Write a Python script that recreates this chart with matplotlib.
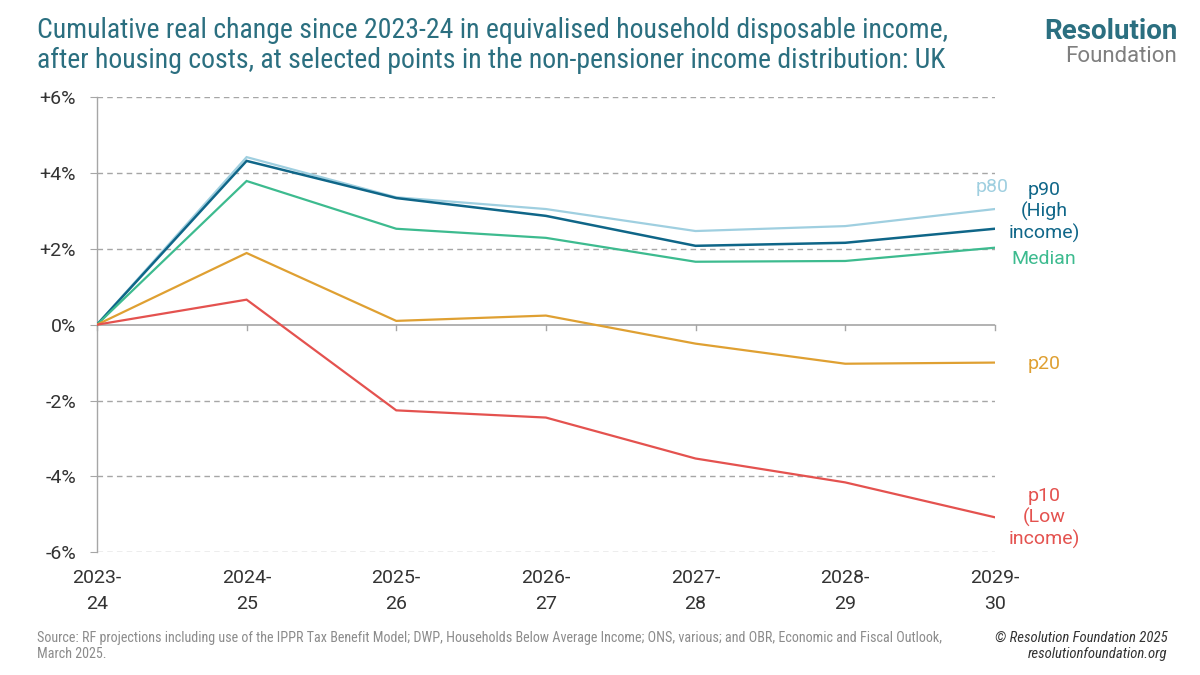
import matplotlib
matplotlib.use("Agg")
import matplotlib.pyplot as plt

years = ["2023-\n24", "2024-\n25", "2025-\n26", "2026-\n27", "2027-\n28", "2028-\n29", "2029-\n30"]
p90 = [0, 4.32, 3.34, 2.87, 2.08, 2.16, 2.53]
p80 = [0, 4.42, 3.36, 3.05, 2.47, 2.60, 3.05]
median = [0, 3.79, 2.53, 2.29, 1.66, 1.68, 2.03]
p20 = [0, 1.89, 0.10, 0.24, -0.50, -1.03, -1.00]
p10 = [0, 0.66, -2.26, -2.45, -3.53, -4.16, -5.08]
yticks = [-6, -4, -2, 0, 2, 4, 6]
ytick_labels = ["-6%", "-4%", "-2%", "0%", "+2%", "+4%", "+6%"]

TEAL = "#2b6f80"
GRID = "#a6a6a6"
COND = ["Roboto Condensed", "Liberation Sans Narrow", "Roboto", "DejaVu Sans"]
plt.rcParams["font.family"] = ["Roboto", "DejaVu Sans"]

fig = plt.figure(figsize=(12, 6.75), dpi=100)
ax = fig.add_axes([0.0808, 0.182, 0.829 - 0.0808, 0.856 - 0.182])

x = list(range(len(years)))
series = [
    (p80, "#9fcfe0", 1.6),
    (p90, "#0f6688", 1.8),
    (median, "#3dbb8f", 1.6),
    (p20, "#dfa032", 1.6),
    (p10, "#e4524f", 1.6),
]
for vals, col, lw in series:
    ax.plot(x, vals, color=col, lw=lw, zorder=3, solid_joinstyle="miter")

ax.set_xlim(0, 6)
ax.set_ylim(-6, 6)
for y in yticks:
    if y == 0:
        ax.axhline(0, color=GRID, lw=1.2, zorder=1)
    else:
        ax.axhline(y, color=GRID, lw=1, ls=(0, (4, 3)), zorder=1)
for xi in x:
    ax.plot([xi, xi], [0, -0.15], color=GRID, lw=1, zorder=1, clip_on=False)

for s in ["top", "right", "bottom"]:
    ax.spines[s].set_visible(False)
ax.spines["left"].set_color(GRID)
ax.spines["left"].set_linewidth(1)

ax.set_yticks(yticks)
ax.set_yticklabels(ytick_labels, fontsize=14, color="#333333")
ax.tick_params(axis="y", length=5, color=GRID, pad=10)
ax.set_xticks(x)
ax.set_xticklabels(years, fontsize=14, color="#333333", linespacing=1.6)
ax.tick_params(axis="x", length=0, pad=12)

# series labels
ax.text(6.09, 3.62, "p80", color="#9fcfe0", fontsize=14, ha="right", va="center")
ax.text(6.33, 2.97, "p90\n(High\nincome)", color="#0f6688", fontsize=14,
        ha="center", va="center", linespacing=1.2)
ax.text(6.33, 1.74, "Median", color="#3dbb8f", fontsize=14, ha="center", va="center")
ax.text(6.33, -1.05, "p20", color="#dfa032", fontsize=14, ha="center", va="center")
ax.text(6.33, -5.1, "p10\n(Low\nincome)", color="#e4524f", fontsize=14,
        ha="center", va="center", linespacing=1.2)

fig.text(0.031, 0.933, "Cumulative real change since 2023-24 in equivalised household disposable income,\n"
         "after housing costs, at selected points in the non-pensioner income distribution: UK",
         fontsize=20, color=TEAL, family=COND, ha="left", va="center", linespacing=1.15)

fig.text(0.981, 0.953, "Resolution", fontsize=20, fontweight="bold", color=TEAL,
         ha="right", va="center")
fig.text(0.981, 0.916, "Foundation", fontsize=16, color="#7f7f7f", ha="right", va="center")

fig.text(0.031, 0.043, "Source: RF projections including use of the IPPR Tax Benefit Model; DWP, Households Below Average Income; ONS, various; and OBR, Economic and Fiscal Outlook,\nMarch 2025.",
         fontsize=10.2, color="#8c8c8c", family=COND, ha="left", va="center", linespacing=1.25)
fig.text(0.973, 0.043, "© Resolution Foundation 2025\nresolutionfoundation.org",
         fontsize=10.6, color="#333333", style="italic", family=COND, ha="right", va="center",
         linespacing=1.25)

fig.savefig("out.png", dpi=100)
